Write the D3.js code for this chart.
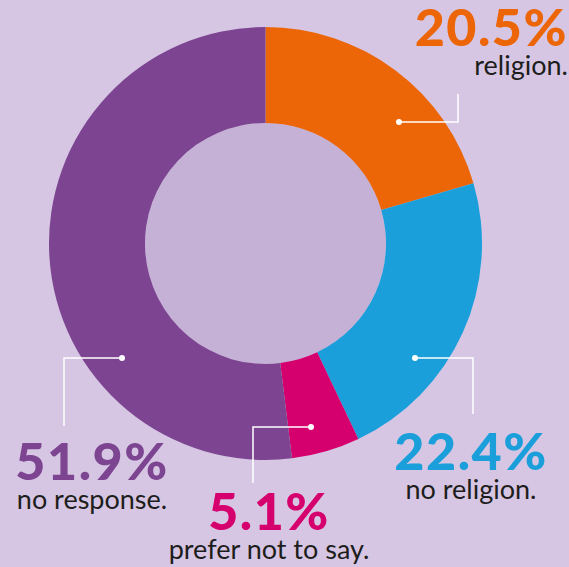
<!DOCTYPE html>
<html>
<head>
<meta charset="utf-8">
<script src="https://cdn.jsdelivr.net/npm/d3@7"></script>
<style>
  html, body { margin: 0; padding: 0; background: #d6c6e3; }
  svg { display: block; }
  .pct { font-family: Lato, "Noto Sans", sans-serif; font-weight: 900; letter-spacing: 1.5px; }
  .lbl { font-family: Lato, "Noto Sans", sans-serif; font-weight: 400; fill: #1d1d1b; }
</style>
</head>
<body>
<div id="chart"></div>
<script>
const categories = ['religion.', 'no religion.', 'prefer not to say.', 'no response.'];
const values = [20.5, 22.4, 5.1, 51.9];
const colors = ['#ec6608', '#1a9fdb', '#d5006d', '#7c4491'];

// callout layout: dot, elbow, line end, text anchor
const callouts = [
  { dot: [399, 122], elbow: [458, 122], end: [458, 94], tx: 568, ty: 46, anchor: 'end' },
  { dot: [415, 358], elbow: [473, 358], end: [473, 414], tx: 471, ty: 470, anchor: 'middle' },
  { dot: [311, 427], elbow: [253, 427], end: [253, 483], tx: 269, ty: 530, anchor: 'middle' },
  { dot: [122, 358], elbow: [64, 358], end: [64, 426], tx: 92, ty: 480, anchor: 'middle' }
];

const width = 569;
const height = 567;
const cx = 265.5, cy = 243.5;
const outerR = 216.5, innerR = 120.5;

const svg = d3.select('#chart').append('svg')
    .attr('width', width)
    .attr('height', height);

svg.append('rect')
    .attr('width', width)
    .attr('height', height)
    .attr('fill', '#d6c6e3');

const data = categories.map((c, i) => ({ name: c, value: values[i], color: colors[i] }));

const pie = d3.pie().value(d => d.value).sort(null);
const arc = d3.arc().innerRadius(innerR).outerRadius(outerR);

const g = svg.append('g').attr('transform', `translate(${cx},${cy})`);

g.append('circle')
    .attr('r', innerR)
    .attr('fill', '#c6b1d6');

g.selectAll('path')
    .data(pie(data))
    .enter().append('path')
    .attr('d', arc)
    .attr('fill', d => d.data.color);

const callout = svg.selectAll('g.callout')
    .data(data)
    .enter().append('g')
    .attr('class', 'callout');

callout.append('polyline')
    .attr('points', (d, i) => [callouts[i].dot, callouts[i].elbow, callouts[i].end].map(p => p.join(',')).join(' '))
    .attr('fill', 'none')
    .attr('stroke', '#ffffff')
    .attr('stroke-width', 1.5);

callout.append('circle')
    .attr('cx', (d, i) => callouts[i].dot[0])
    .attr('cy', (d, i) => callouts[i].dot[1])
    .attr('r', 3)
    .attr('fill', '#ffffff');

callout.append('text')
    .attr('class', 'pct')
    .attr('x', (d, i) => callouts[i].tx)
    .attr('y', (d, i) => callouts[i].ty)
    .attr('text-anchor', (d, i) => callouts[i].anchor)
    .attr('font-size', 52)
    .attr('fill', d => d.color)
    .text(d => d3.format('.1f')(d.value) + '%');

callout.append('text')
    .attr('class', 'lbl')
    .attr('x', (d, i) => callouts[i].tx)
    .attr('y', (d, i) => callouts[i].ty + 29)
    .attr('text-anchor', (d, i) => callouts[i].anchor)
    .attr('font-size', 27)
    .text(d => d.name);
</script>
</body>
</html>
